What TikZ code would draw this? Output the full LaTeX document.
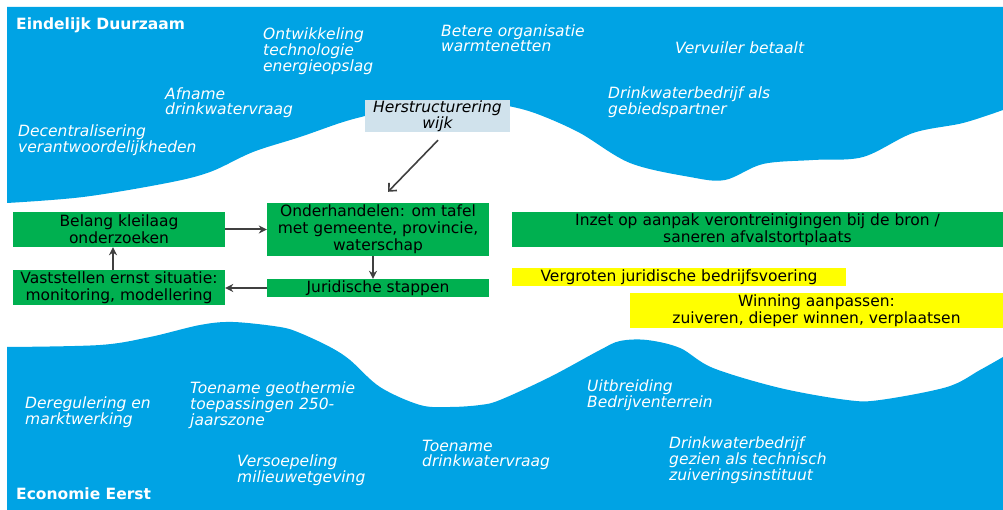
\documentclass[tikz,border=0pt]{standalone}
\usepackage{fontspec}
\setmainfont{DejaVu Sans}
\usetikzlibrary{arrows.meta}
\definecolor{sea}{HTML}{00A3E4}
\definecolor{grass}{HTML}{00B050}
\definecolor{lemon}{HTML}{FFFF00}
\definecolor{mist}{HTML}{D0E2EC}
\definecolor{ink}{HTML}{404040}
\begin{document}
\begin{tikzpicture}[x=1pt,y=-1pt,
  lbl/.style={anchor=north west, inner sep=0pt, align=left, text=white,
    font=\fontsize{15.5}{15}\selectfont\itshape},
  heading/.style={anchor=north west, inner sep=0pt, text=white,
    font=\fontsize{15.5}{15}\selectfont\bfseries},
  box/.style={inner sep=0pt, align=center, text=black,
    font=\fontsize{15.5}{17}\selectfont},
  gbox/.style={box, fill=grass},
  ybox/.style={box, fill=lemon},
  arr/.style={draw=ink, line width=2pt, -{Stealth[length=8pt,width=8pt]}},
  barb/.style={draw=ink, line width=1.6pt, -{Straight Barb[length=6pt,width=11pt]}},
]
\useasboundingbox (0,0) rectangle (1003,510);

% upper scenario band
\fill[sea] (7,7) -- (1003,7) -- plot[smooth, tension=0.55] coordinates {
  (1003,110) (963,123) (913,133) (863,157) (813,160) (763,164) (725,180)
  (690,177) (630,163) (580,133) (540,115) (513,107) (480,102) (440,102)
  (400,108) (365,116) (340,123) (300,137) (253,152) (210,172) (167,183)
  (83,197) (7,203)} -- cycle;

% lower scenario band
\fill[sea] (7,510) -- plot[smooth, tension=0.55] coordinates {
  (7,347) (100,345) (150,337) (200,325) (233,322) (280,327) (300,333)
  (330,347) (350,360) (380,387) (420,405) (450,407) (480,405) (500,400)
  (550,377) (600,350) (620,341) (647,340) (680,348) (713,368) (780,388)
  (847,400) (880,400) (947,387) (980,370) (1003,357)} -- (1003,510) -- cycle;

% band titles
\node[heading] (tTop) at (16,18) {Eindelijk Duurzaam};
\node[heading] (tBot) at (16,488) {Economie Eerst};

% developments, upper band
\node[lbl] (u1) at (263,28) {Ontwikkeling\\technologie\\energieopslag};
\node[lbl] (u2) at (441,25) {Betere organisatie\\warmtenetten};
\node[lbl] (u3) at (675,42) {Vervuiler betaalt};
\node[lbl] (u4) at (608,87) {Drinkwaterbedrijf als\\gebiedspartner};
\node[lbl] (u5) at (165,88) {Afname\\drinkwatervraag};
\node[lbl] (u6) at (18,125) {Decentralisering\\verantwoordelijkheden};

% developments, lower band
\node[lbl] (d1) at (25,397) {Deregulering en\\marktwerking};
\node[lbl] (d2) at (190,382) {Toename geothermie\\toepassingen 250-\\jaarszone};
\node[lbl] (d3) at (237,455) {Versoepeling\\milieuwetgeving};
\node[lbl] (d4) at (422,440) {Toename\\drinkwatervraag};
\node[lbl] (d5) at (587,380) {Uitbreiding\\Bedrijventerrein};
\node[lbl] (d6) at (669,437) {Drinkwaterbedrijf\\gezien als technisch\\zuiveringsinstituut};

% measures
\node[box, fill=mist, minimum width=145pt, minimum height=32pt,
  font=\fontsize{15.5}{16}\selectfont\itshape] (herst) at (437.5,116)
  {Herstructurering\\wijk};
\node[gbox, minimum width=212pt, minimum height=35pt] (belang) at (119,229.5)
  {Belang kleilaag\\onderzoeken};
\node[gbox, minimum width=212pt, minimum height=35pt] (vast) at (119,287.5)
  {Vaststellen ernst situatie:\\monitoring, modellering};
\node[gbox, minimum width=222pt, minimum height=53pt] (onder) at (378,229.5)
  {Onderhandelen: om tafel\\met gemeente, provincie,\\waterschap};
\node[gbox, minimum width=222pt, minimum height=18pt] (jur) at (378,288)
  {Juridische stappen};
\node[gbox, minimum width=491pt, minimum height=35pt] (inzet) at (757.5,229.5)
  {Inzet op aanpak verontreinigingen bij de bron /\\saneren afvalstortplaats};
\node[ybox, minimum width=334pt, minimum height=18pt] (verg) at (679,277)
  {Vergroten juridische bedrijfsvoering};
\node[ybox, minimum width=373pt, minimum height=35pt] (winn) at (816.5,310.5)
  {Winning aanpassen:\\zuiveren, dieper winnen, verplaatsen};

% connectors
\draw[barb] ([xshift=0.5pt,yshift=-8pt]herst.south) -- ([xshift=10pt,yshift=11pt]onder.north);
\draw[arr] (belang.east) -- (onder.west |- belang.east);
\draw[arr] ([xshift=-5pt]onder.south) -- ([xshift=-5pt]jur.north);
\draw[arr] (jur.west) -- (vast.east |- jur.west);
\draw[arr] ([xshift=-6pt]vast.north) -- ([xshift=-6pt]belang.south);
\end{tikzpicture}
\end{document}
